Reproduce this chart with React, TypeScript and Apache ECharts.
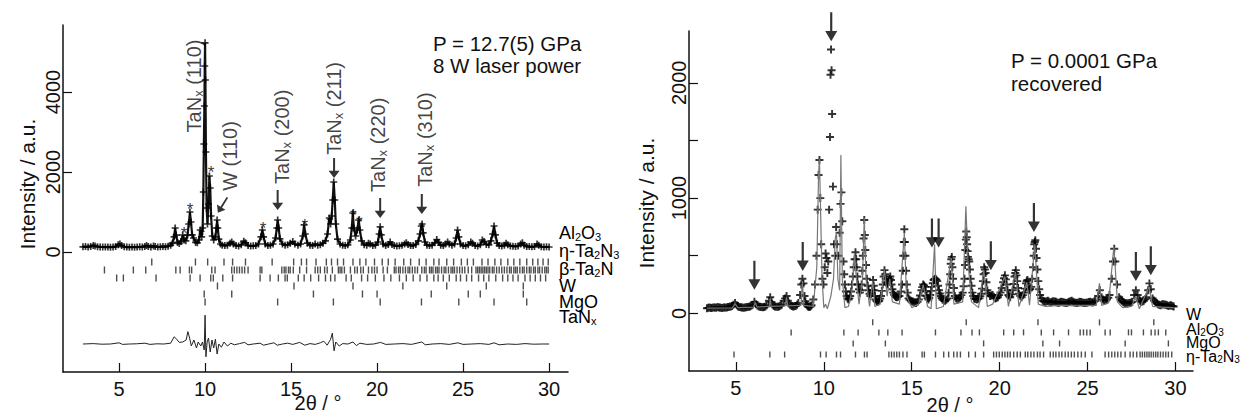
import { useEffect, useRef } from "react";
import * as echarts from "echarts";

// ---------------- data: left panel (P = 12.7(5) GPa) ----------------
const obsLeft: number[][] = [
  [2.9,130],[3.05,135],[3.2,128],[3.35,140],[3.5,165],[3.6,150],[3.75,132],[3.9,128],[4.05,125],[4.2,122],
  [4.35,127],[4.5,120],[4.65,124],[4.8,135],[4.95,180],[5.05,200],[5.15,160],[5.3,130],[5.45,122],[5.6,118],
  [5.75,125],[5.9,120],[6.05,123],[6.2,130],[6.35,125],[6.5,140],[6.6,160],[6.7,140],[6.85,128],[7.0,150],
  [7.1,135],[7.25,125],[7.4,130],[7.55,140],[7.7,130],[7.85,145],[8.0,170],[8.1,220],[8.2,380],[8.26,600],
  [8.32,420],[8.4,240],[8.5,210],[8.6,260],[8.7,425],[8.78,300],[8.88,280],[8.98,420],[9.05,700],[9.12,1000],
  [9.18,750],[9.25,430],[9.33,350],[9.45,240],[9.55,230],[9.65,300],[9.72,550],[9.8,380],[9.86,600],[9.9,1500],
  [9.93,2700],[9.96,3650],[9.98,4650],[10.0,5230],[10.02,4300],[10.05,2500],[10.09,1100],[10.14,700],[10.2,1200],
  [10.25,1900],[10.3,1600],[10.35,900],[10.42,400],[10.5,300],[10.6,380],[10.66,600],[10.7,800],[10.74,600],
  [10.8,320],[10.9,200],[11.0,170],[11.15,160],[11.3,170],[11.45,220],[11.55,250],[11.65,200],[11.8,160],
  [11.95,150],[12.1,180],[12.25,270],[12.35,230],[12.5,160],[12.65,150],[12.8,155],[12.95,160],[13.1,200],
  [13.25,380],[13.33,550],[13.4,380],[13.5,200],[13.65,160],[13.8,170],[13.95,200],[14.1,350],[14.17,600],
  [14.22,800],[14.28,600],[14.35,330],[14.5,200],[14.65,170],[14.8,180],[14.95,220],[15.1,260],[15.22,200],
  [15.4,170],[15.55,200],[15.68,400],[15.76,680],[15.83,450],[15.95,220],[16.1,170],[16.25,160],[16.4,200],
  [16.55,170],[16.7,180],[16.85,220],[17.0,280],[17.12,450],[17.22,850],[17.3,700],[17.36,900],[17.42,1300],
  [17.48,1750],[17.54,1300],[17.6,700],[17.7,320],[17.85,200],[18.0,170],[18.15,160],[18.3,180],[18.45,300],
  [18.53,600],[18.59,975],[18.65,600],[18.75,400],[18.85,550],[18.93,800],[19.0,550],[19.1,280],[19.25,180],
  [19.4,170],[19.5,220],[19.6,200],[19.75,160],[19.9,170],[20.05,250],[20.12,450],[20.18,630],[20.24,430],
  [20.35,200],[20.5,160],[20.65,190],[20.76,250],[20.87,190],[21.0,160],[21.15,150],[21.3,155],[21.45,170],
  [21.6,200],[21.7,230],[21.8,190],[21.95,160],[22.1,160],[22.25,190],[22.4,280],[22.5,450],[22.57,650],
  [22.62,700],[22.68,480],[22.78,250],[22.9,170],[23.05,160],[23.2,170],[23.35,230],[23.47,310],[23.58,240],
  [23.7,170],[23.85,160],[23.98,200],[24.1,250],[24.2,200],[24.35,170],[24.5,200],[24.6,350],[24.68,550],
  [24.75,380],[24.85,200],[25.0,160],[25.15,155],[25.3,180],[25.45,250],[25.55,220],[25.7,160],[25.85,150],
  [26.0,180],[26.12,300],[26.22,260],[26.35,190],[26.5,180],[26.62,280],[26.72,450],[26.8,650],[26.88,430],
  [26.98,220],[27.1,160],[27.25,150],[27.4,170],[27.5,220],[27.6,180],[27.75,150],[27.9,145],[28.05,140],
  [28.2,150],[28.35,200],[28.45,230],[28.55,170],[28.7,140],[28.85,135],[29.0,130],[29.15,135],[29.3,200],
  [29.4,170],[29.55,130],[29.7,125],[29.85,130],[30.0,125],
];
const diffLeft: number[][] = [
  [2.9,-2300],[3.5,-2290],[4.0,-2305],[4.5,-2300],[5.0,-2270],[5.2,-2310],[5.6,-2300],[6.0,-2295],[6.5,-2280],
  [6.8,-2310],[7.2,-2295],[7.6,-2300],[8.0,-2280],[8.2,-2120],[8.35,-2180],[8.5,-2260],[8.7,-2250],[8.9,-2200],
  [9.0,-1990],[9.1,-2150],[9.2,-2350],[9.35,-2200],[9.5,-2400],[9.6,-2250],[9.75,-2350],[9.85,-2250],[9.95,-2450],
  [10.0,-1580],[10.05,-2620],[10.12,-2250],[10.2,-2150],[10.3,-2500],[10.4,-2200],[10.5,-2400],[10.6,-2180],
  [10.7,-2550],[10.8,-2300],[10.95,-2380],[11.1,-2250],[11.3,-2350],[11.5,-2280],[11.7,-2320],[12.0,-2290],
  [12.3,-2260],[12.5,-2320],[12.8,-2300],[13.2,-2280],[13.4,-2330],[13.7,-2300],[14.0,-2270],[14.2,-2330],
  [14.5,-2300],[14.8,-2280],[15.1,-2310],[15.5,-2260],[15.8,-2330],[16.1,-2290],[16.4,-2310],[16.7,-2270],
  [16.9,-2230],[17.1,-2330],[17.3,-2180],[17.4,-2030],[17.5,-2470],[17.6,-2250],[17.8,-2350],[18.0,-2290],
  [18.3,-2300],[18.6,-2250],[18.8,-2340],[19.0,-2280],[19.4,-2310],[19.8,-2300],[20.2,-2260],[20.5,-2310],
  [21.0,-2300],[21.5,-2290],[22.0,-2310],[22.6,-2250],[22.8,-2320],[23.2,-2300],[23.7,-2290],[24.2,-2310],
  [24.7,-2270],[25.0,-2310],[25.5,-2300],[26.0,-2290],[26.5,-2310],[26.8,-2270],[27.1,-2320],[27.6,-2300],
  [28.1,-2310],[28.6,-2290],[29.1,-2305],[29.6,-2300],[30.0,-2300],
];
const al2o3Left = [6.9,9.44,10.15,11.1,11.6,12.35,13.9,15.15,15.6,15.9,16.45,17.05,17.35,17.7,18.05,18.6,19.0,19.35,19.85,20.3,20.65,21.05,21.55,21.95,22.45,22.85,23.3,23.6,24.05,24.45,24.9,25.25,25.6,26.1,26.45,26.85,27.2,27.6,27.95,28.3,28.7,29.05,29.35,29.65,29.95];
const etaLeft = [4.15,5.83,6.55,8.3,8.55,9.09,9.22,10.39,10.58,11.55,11.7,11.85,12.0,12.15,12.3,12.5,13.2,13.3,14.46,14.6,14.7,14.85,14.95,15.13,15.5,15.9,16.4,16.55,16.7,16.95,17.1,17.4,17.75,17.85,17.95,18.1,18.45,18.7,18.85,19.05,19.2,19.5,19.7,19.85,20.0,20.35,20.6,21.0,21.1,21.25,21.35,21.5,21.65,21.8,21.9,22.05,22.2,22.35,22.6,22.75,22.85,23.05,23.15,23.25,23.4,23.5,23.6,23.75,23.9,24.0,24.15,24.3,24.4,24.5,24.65,24.8,24.95,25.1,25.3,25.5,25.75,25.85,25.95,26.05,26.15,26.25,26.35,26.45,26.55,26.7,26.8,26.95,27.1,27.25,27.4,27.55,27.7,27.8,27.95,28.05,28.15,28.3,28.45,28.55,28.7,28.85,28.95,29.1,29.2,29.35,29.45,29.6,29.75,29.85,29.95];
const betaLeft = [4.86,5.25,7.15,9.13,9.71,10.33,10.48,11.03,11.6,13.2,13.78,14.26,14.65,14.78,15.42,15.76,16.14,16.6,17.0,17.3,17.55,18.2,18.5,19.1,19.45,19.9,20.4,20.8,21.3,21.7,22.1,22.5,22.9,23.3,23.55,23.85,24.2,24.6,24.85,25.2,25.5,25.9,26.2,26.5,26.9,27.3,27.6,27.9,28.2,28.6,28.9,29.2,29.5,29.8];
const wLeft = [10.72,15.17,18.6,21.5,24.05,26.35,28.5];
const mgoLeft = [9.95,11.55,16.3,19.15,20.0,23.15,25.3,26.0,28.5];
const tanLeft = [10.0,14.22,17.46,20.18,22.58,24.75,26.8,28.7];
const arrowTipsLeft: number[][] = [[14.22,1050],[17.5,1850],[20.18,850],[22.6,950]];
const wArrowLeft: number[][] = [[11.02,1175]];
const peakLabelsLeft: [number, number, string][] = [[9.33,4150,"(110)"],[14.5,2880,"(200)"],[17.47,3590,"(211)"],[20.06,2680,"(220)"],[22.79,2810,"(310)"]];
const wLabelLeft: [number, number, string][] = [[11.45,2400,"W (110)"]];
const starsLeft: number[][] = [[8.78,560],[9.13,1175],[9.8,520],[10.35,2100],[13.37,680],[15.8,760],[17.25,810],[18.62,1010],[18.97,830]];

// ---------------- data: right panel (P = 0.0001 GPa, recovered) ----------------
const obsRight: number[][] = [
  [3.35,45],[3.43,48],[3.5,50],[3.58,46],[3.65,48],[3.73,50],[3.8,52],[3.88,49],[3.95,55],[4.03,52],[4.1,50],
  [4.18,47],[4.25,48],[4.33,51],[4.4,52],[4.48,50],[4.55,55],[4.63,57],[4.7,60],[4.78,65],[4.85,75],
  [4.95,90],[5.05,70],[5.12,60],[5.2,55],[5.28,53],[5.35,52],[5.43,49],[5.5,50],[5.58,53],[5.65,55],[5.73,57],
  [5.8,60],[5.88,66],[5.95,75],[6.05,100],[6.15,80],[6.22,68],[6.3,60],[6.38,57],
  [6.45,55],[6.53,53],[6.6,55],[6.68,60],[6.75,70],[6.88,110],[6.95,140],[7.02,100],[7.08,78],[7.15,65],[7.22,60],
  [7.3,58],[7.38,57],[7.45,60],[7.53,66],[7.6,75],[7.72,110],
  [7.8,130],[7.88,150],[7.95,110],[8.02,85],[8.1,70],[8.18,63],[8.25,60],[8.32,62],[8.4,65],[8.48,75],[8.55,90],
  [8.65,160],[8.72,250],[8.78,300],
  [8.84,260],[8.9,150],[8.95,105],[9.0,80],[9.05,68],[9.1,60],[9.15,57],[9.2,58],[9.25,62],[9.3,70],[9.4,120],
  [9.5,250],[9.58,500],[9.65,900],[9.7,1200],
  [9.75,1330],[9.8,1000],[9.85,600],[9.92,300],[9.98,250],[10.05,400],[10.1,520],[10.15,480],[10.2,350],
  [10.25,450],[10.3,900],[10.35,1530],[10.38,2070],[10.41,2290],[10.44,2110],[10.47,1730],[10.52,1100],
  [10.58,600],[10.65,500],[10.7,750],[10.75,600],[10.82,500],[10.9,700],[10.95,950],[11.0,1050],[11.05,800],
  [11.12,450],[11.16,340],[11.2,250],[11.25,190],[11.3,150],[11.35,130],[11.4,120],[11.45,130],[11.5,150],
  [11.55,190],[11.6,250],[11.65,320],[11.7,400],[11.75,470],[11.8,530],[11.84,470],[11.87,400],[11.91,320],
  [11.95,250],[12.0,210],[12.05,180],[12.1,200],[12.15,250],[12.19,370],[12.22,500],[12.26,650],[12.3,810],
  [12.33,680],[12.36,550],[12.4,420],[12.45,300],[12.5,240],[12.55,200],[12.6,170],[12.65,150],[12.7,170],
  [12.75,200],[12.8,290],[12.84,240],[12.87,200],[12.91,150],[12.95,120],[13.0,108],[13.05,100],[13.1,104],
  [13.15,110],[13.2,128],[13.25,150],[13.3,195],[13.35,250],[13.4,320],[13.45,375],[13.49,340],[13.52,300],
  [13.56,270],[13.6,250],[13.65,262],[13.7,280],[13.74,300],[13.78,320],[13.82,290],[13.85,250],[13.9,210],
  [13.95,180],[14.0,162],[14.05,150],[14.1,143],[14.15,140],[14.22,144],[14.3,150],[14.38,190],[14.45,250],
  [14.49,370],[14.52,500],[14.55,620],[14.58,730],[14.61,620],[14.64,500],[14.68,370],[14.72,250],[14.77,180],
  [14.82,130],[14.88,118],[14.95,110],[15.03,104],[15.1,100],[15.18,95],[15.25,90],[15.33,100],
  [15.4,120],[15.47,155],[15.55,200],[15.6,228],[15.65,250],[15.7,242],[15.75,230],[15.8,190],[15.85,150],
  [15.9,132],[15.95,120],[16.0,135],[16.05,160],[16.1,195],[16.15,230],[16.2,262],[16.25,290],[16.3,298],
  [16.35,300],[16.4,292],[16.45,280],[16.5,240],[16.55,200],[16.6,172],[16.65,150],[16.7,133],[16.75,120],
  [16.82,114],[16.9,110],[16.97,118],[17.05,130],[17.1,180],[17.15,250],[17.19,340],[17.22,430],[17.25,470],
  [17.28,490],[17.31,400],[17.35,300],[17.4,220],[17.45,150],[17.52,132],[17.6,120],[17.68,128],[17.75,140],
  [17.82,158],[17.9,180],[17.95,235],[18.0,300],[18.03,420],[18.05,550],[18.08,640],[18.1,710],[18.13,660],
  [18.15,600],[18.18,540],[18.2,490],[18.24,470],[18.27,450],[18.31,380],[18.35,300],[18.4,240],[18.45,180],
  [18.5,150],[18.55,130],[18.62,124],[18.7,120],[18.77,126],[18.85,130],[18.9,148],[18.95,170],[19.0,215],
  [19.05,280],[19.09,340],[19.12,400],[19.16,380],[19.2,350],[19.25,270],[19.3,200],[19.37,172],[19.45,150],
  [19.52,156],[19.6,160],[19.67,145],[19.75,130],[19.82,134],[19.9,140],[19.97,158],[20.05,180],[20.12,220],
  [20.2,270],[20.25,305],[20.3,330],[20.35,295],[20.4,250],[20.45,200],[20.5,160],[20.55,148],[20.6,140],
  [20.67,165],[20.75,200],[20.8,255],[20.85,320],[20.89,350],[20.92,375],[20.96,330],[21.0,280],[21.05,220],
  [21.1,170],[21.17,152],[21.25,140],[21.32,158],[21.4,180],[21.45,215],[21.5,260],[21.54,278],[21.58,290],
  [21.63,245],[21.68,200],[21.74,212],[21.8,230],[21.85,300],[21.9,400],[21.94,500],[21.97,600],[22.0,620],
  [22.03,635],[22.07,560],[22.1,480],[22.15,380],[22.2,280],[22.25,210],[22.3,160],[22.38,130],[22.45,110],
  [22.53,104],[22.6,100],[22.68,106],
  [22.75,110],[22.83,100],[22.9,95],[22.98,101],[23.05,105],[23.13,102],
  [23.2,100],[23.28,94],[23.35,90],[23.43,96],[23.5,100],[23.58,98],[23.65,95],[23.73,92],[23.8,90],[23.88,95],
  [23.95,100],[24.03,106],[24.1,110],[24.18,100],[24.25,95],[24.33,92],[24.4,90],[24.48,95],[24.55,100],
  [24.63,98],[24.7,95],[24.78,92],[24.85,90],[24.93,93],[25.0,95],[25.08,98],[25.15,100],[25.23,97],[25.3,95],
  [25.38,102],[25.45,110],[25.6,150],[25.7,200],[25.8,140],[25.88,120],[25.95,110],
  [26.03,114],[26.1,120],[26.18,135],[26.25,160],[26.38,300],[26.45,450],[26.52,560],[26.58,450],[26.68,250],
  [26.8,140],[26.88,122],[26.95,110],[27.03,98],
  [27.1,90],[27.18,87],[27.25,85],[27.33,87],[27.4,90],[27.48,95],[27.55,100],[27.65,160],[27.75,200],
  [27.85,160],[27.95,120],[28.0,108],[28.05,100],[28.13,104],
  [28.2,110],[28.28,122],[28.35,140],[28.45,200],[28.52,260],[28.6,210],[28.7,130],[28.78,112],[28.85,100],
  [28.93,90],[29.0,80],[29.08,74],[29.15,70],[29.23,76],
  [29.3,80],[29.38,78],[29.45,75],[29.53,70],[29.6,65],[29.68,68],[29.75,70],[29.83,64],[29.9,60],
];
const calcRight: number[][] = [
  [3.35,45],[4.8,48],[4.95,85],[5.1,50],[6.0,55],[6.1,95],[6.2,55],[6.9,60],[6.95,130],[7.0,60],[7.8,65],
  [7.88,140],[7.95,65],[8.7,70],[8.78,280],[8.86,70],[9.4,60],[9.6,400],[9.7,1200],[9.75,1340],[9.8,1000],
  [9.9,300],[10.0,50],[10.1,80],[10.2,40],[10.4,150],[10.55,300],[10.65,650],[10.72,700],[10.8,300],[10.9,200],
  [10.97,1375],[11.05,300],[11.2,50],[11.4,60],[11.6,200],[11.75,520],[11.85,300],[12.0,80],[12.2,300],
  [12.3,830],[12.4,300],[12.6,60],[12.78,280],[12.9,60],[13.2,80],[13.45,380],[13.6,150],[13.75,300],[13.9,100],
  [14.3,80],[14.58,700],[14.7,150],[15.0,50],[15.4,80],[15.65,250],[15.9,60],[16.1,40],[16.3,600],[16.4,40],
  [16.8,60],[17.25,480],[17.4,80],[17.9,100],[18.08,930],[18.2,450],[18.4,100],[18.8,50],[19.1,380],[19.3,60],
  [19.6,80],[20.3,320],[20.5,60],[20.9,360],[21.1,60],[21.55,270],[21.7,70],[22.0,600],[22.2,80],[22.6,60],
  [23.5,70],[24.5,65],[25.5,70],[25.68,260],[25.8,70],[26.2,90],[26.5,580],[26.7,100],[27.0,50],[27.5,60],
  [27.75,150],[27.95,40],[28.5,230],[28.7,60],[29.2,55],[29.9,50],
];
const wRight = [12.78,18.1,22.18,25.68,28.77];
const al2o3Right = [8.14,11.14,11.95,13.13,13.64,14.45,16.35,17.8,18.43,18.85,20.23,20.8,21.36,22.37,23.07,23.92,24.58,24.77,24.96,25.15,26.0,26.29,27.33,27.5,28.18,28.62,28.84,29.03,29.45];
const mgoRight = [11.67,13.5,19.09,22.46,23.41,27.14,29.6];
const etaRight = [4.89,6.93,7.77,9.81,10.13,10.72,10.95,11.8,12.31,12.46,13.7,13.85,14.0,14.15,14.3,14.5,14.73,15.59,15.72,16.35,16.82,17.1,17.39,17.58,17.77,18.24,18.62,19.09,19.66,19.82,19.98,20.15,20.3,20.45,20.6,20.8,21.0,21.18,21.46,21.6,21.78,21.95,22.15,22.3,22.5,22.88,23.05,23.2,23.38,23.54,23.73,23.9,24.08,24.25,24.45,24.65,24.87,25.25,26.0,26.2,26.38,26.55,26.72,26.9,27.14,27.42,27.6,27.8,27.99,28.12,28.25,28.38,28.5,28.62,28.75,28.88,29.0,29.15,29.3,29.45,29.6,29.79];
const arrowTipsRight: number[][] = [[6.05,206],[8.8,368],[10.42,2360],[16.15,571],[16.53,571],[19.5,374],[21.95,707],[27.75,281],[28.6,330]];

// tick labels
const xTicks = [5, 10, 15, 20, 25, 30];
const yTicksLeft = [0, 2000, 4000];
const yTicksRight = [0, 500, 1000, 1500, 2000];
const yLabelsRight = [0, 1000, 2000];

// ---------------- styling ----------------
const FONT = "'Liberation Sans', Arial, Helvetica, sans-serif";
const INK = "#111";
const PLUS = "path://M1.9,0H3.1V1.9H5V3.1H3.1V5H1.9V3.1H0V1.9H1.9Z";
const ARROW = "path://M4,0H6V18H10.5L5,28L-0.5,18H4Z";

const rowLevelsLeft = [-250, -450, -650, -850, -1050, -1250];
const rowLevelsRight = [-78, -165, -261, -357];

const richBig = {
  a: { fontFamily: FONT, fontSize: 20, lineHeight: 22, color: INK },
  s: { fontFamily: FONT, fontSize: 13, lineHeight: 12, verticalAlign: "bottom", color: INK },
};
const richPhase = {
  a: { fontFamily: FONT, fontSize: 18, lineHeight: 18, color: INK },
  s: { fontFamily: FONT, fontSize: 11, lineHeight: 10, verticalAlign: "bottom", color: INK },
};
const richPhaseR = {
  a: { fontFamily: FONT, fontSize: 16, lineHeight: 16, color: INK },
  s: { fontFamily: FONT, fontSize: 10, lineHeight: 9, verticalAlign: "bottom", color: INK },
};
const richStar = { t: { fontFamily: FONT, fontSize: 17, color: "#000" } };

function xAxis(grid: number, min: number, max: number) {
  return {
    type: "value", gridIndex: grid, min, max,
    axisLine: { show: true, onZero: false, lineStyle: { color: INK, width: 1.5 } },
    axisTick: { show: true, inside: true, length: 9, customValues: xTicks, lineStyle: { color: INK, width: 1.2 } },
    axisLabel: { customValues: xTicks, fontFamily: FONT, fontSize: 20, color: INK, margin: 7, formatter: (v: number) => String(v) },
    splitLine: { show: false },
  };
}
function yAxis(grid: number, min: number, max: number, ticks: number[], labels: number[]) {
  return {
    type: "value", gridIndex: grid, min, max,
    axisLine: { show: true, onZero: false, lineStyle: { color: INK, width: 1.5 } },
    axisTick: { show: true, inside: true, length: 9, customValues: ticks, lineStyle: { color: INK, width: 1.2 } },
    axisLabel: { customValues: labels, rotate: 90, fontFamily: FONT, fontSize: 20, color: INK, margin: 0, formatter: (v: number) => String(v) },
    splitLine: { show: false },
  };
}
function tickRow(ax: number, xs: number[], level: number, h: number) {
  return {
    type: "scatter", xAxisIndex: ax, yAxisIndex: ax, silent: true,
    symbol: "rect", symbolSize: [1.4, h], itemStyle: { color: "#222" },
    data: xs.map((x) => [x, level]), z: 2,
  };
}
function arrows(ax: number, tips: number[][], size: number[]) {
  return {
    type: "scatter", xAxisIndex: ax, yAxisIndex: ax, silent: true,
    symbol: ARROW, symbolSize: size, symbolOffset: [0, "-50%"], itemStyle: { color: "#000" },
    data: tips, z: 5,
  };
}
const phaseText = (x: number, y: number, parts: string, rich: any) => ({
  type: "text", x, y, silent: true,
  style: { text: parts, rich, align: "left", verticalAlign: "middle" },
});
const plainText = (x: number, y: number, t: string, size: number, rot = 0, align = "left") => ({
  type: "text", x, y, rotation: rot, silent: true,
  style: { text: t, fontFamily: FONT, fontSize: size, fill: INK, align, verticalAlign: "middle" },
});

const option: any = {
  animation: false,
  backgroundColor: "#fff",
  grid: [
    { left: 63, top: 25, width: 505, height: 347 },
    { left: 689, top: 31, width: 504, height: 340 },
  ],
  xAxis: [xAxis(0, 1.74, 31.1), xAxis(1, 2.33, 31.0)],
  yAxis: [yAxis(0, -3000, 5675, yTicksLeft, yTicksLeft), yAxis(1, -500, 2450, yTicksRight, yLabelsRight)],
  series: [
    // left panel
    { type: "line", xAxisIndex: 0, yAxisIndex: 0, data: obsLeft, showSymbol: false, silent: true, lineStyle: { color: "#111", width: 2.2 }, z: 2 },
    { type: "scatter", xAxisIndex: 0, yAxisIndex: 0, data: obsLeft, symbol: PLUS, symbolSize: 7, silent: true, itemStyle: { color: "#000" }, z: 3 },
    { type: "line", xAxisIndex: 0, yAxisIndex: 0, data: diffLeft, showSymbol: false, silent: true, lineStyle: { color: "#222", width: 1 }, z: 2 },
    tickRow(0, al2o3Left, rowLevelsLeft[0], 7),
    tickRow(0, etaLeft, rowLevelsLeft[1], 7),
    tickRow(0, betaLeft, rowLevelsLeft[2], 7),
    tickRow(0, wLeft, rowLevelsLeft[3], 7),
    tickRow(0, mgoLeft, rowLevelsLeft[4], 7),
    tickRow(0, tanLeft, rowLevelsLeft[5], 7),
    arrows(0, arrowTipsLeft, [11, 20]),
    {
      type: "scatter", xAxisIndex: 0, yAxisIndex: 0, silent: true,
      symbol: ARROW, symbolSize: [10, 18], symbolRotate: -32, itemStyle: { color: "#000" }, data: wArrowLeft, z: 5,
    },
    {
      type: "scatter", xAxisIndex: 0, yAxisIndex: 0, silent: true, symbolSize: 1, itemStyle: { color: "rgba(0,0,0,0)" },
      data: peakLabelsLeft.map(([x, y, t]) => ({ value: [x, y], name: t })),
      label: { show: true, position: "inside", rotate: 90, formatter: (p: any) => `{a|TaN}{s|x}{a| ${p.name}}`, rich: richBig },
      z: 6,
    },
    {
      type: "scatter", xAxisIndex: 0, yAxisIndex: 0, silent: true, symbolSize: 1, itemStyle: { color: "rgba(0,0,0,0)" },
      data: wLabelLeft.map(([x, y, t]) => ({ value: [x, y], name: t })),
      label: { show: true, position: "inside", rotate: 90, formatter: (p: any) => p.name, fontFamily: FONT, fontSize: 20, color: INK },
      z: 6,
    },
    {
      type: "scatter", xAxisIndex: 0, yAxisIndex: 0, silent: true, symbolSize: 1, itemStyle: { color: "rgba(0,0,0,0)" },
      data: starsLeft,
      label: { show: true, position: "inside", formatter: "{t|*}", rich: richStar, offset: [0, 4] },
      z: 6,
    },
    // right panel
    { type: "scatter", xAxisIndex: 1, yAxisIndex: 1, data: obsRight, symbol: PLUS, symbolSize: 8, silent: true, itemStyle: { color: "#000" }, z: 3 },
    { type: "line", xAxisIndex: 1, yAxisIndex: 1, data: calcRight, showSymbol: false, silent: true, lineStyle: { color: "#777", width: 1.2 }, z: 4 },
    tickRow(1, wRight, rowLevelsRight[0], 6),
    tickRow(1, al2o3Right, rowLevelsRight[1], 6),
    tickRow(1, mgoRight, rowLevelsRight[2], 6),
    tickRow(1, etaRight, rowLevelsRight[3], 6),
    arrows(1, arrowTipsRight, [12, 29]),
  ],
  graphic: [
    plainText(433, 43, "P = 12.7(5) GPa", 20.5),
    plainText(433, 65, "8 W laser power", 20.5),
    plainText(1011, 60, "P = 0.0001 GPa", 20.5),
    plainText(1011, 83, "recovered", 20.5),
    plainText(27, 184, "Intensity / a.u.", 21, Math.PI / 2, "center"),
    plainText(646, 203, "Intensity / a.u.", 21, Math.PI / 2, "center"),
    plainText(318, 403, "2θ / °", 20, 0, "center"),
    plainText(950, 405, "2θ / °", 20, 0, "center"),
    phaseText(559, 233, "{a|Al}{s|2}{a|O}{s|3}", richPhase),
    phaseText(559, 251, "{a|η-Ta}{s|2}{a|N}{s|3}", richPhase),
    phaseText(559, 269, "{a|β-Ta}{s|2}{a|N}", richPhase),
    phaseText(559, 286, "{a|W}", richPhase),
    phaseText(559, 302, "{a|MgO}", richPhase),
    phaseText(559, 317, "{a|TaN}{s|x}", richPhase),
    phaseText(1186, 314, "{a|W}", richPhaseR),
    phaseText(1186, 329, "{a|Al}{s|2}{a|O}{s|3}", richPhaseR),
    phaseText(1186, 342, "{a|MgO}", richPhaseR),
    phaseText(1186, 356, "{a|η-Ta}{s|2}{a|N}{s|3}", richPhaseR),
  ],
};

export default function App() {
  const ref = useRef<HTMLDivElement>(null);
  useEffect(() => {
    const chart = echarts.init(ref.current!, null, { renderer: "svg" });
    chart.setOption(option);
    return () => chart.dispose();
  }, []);
  return (
    <div
      ref={ref}
      style={{ position: "absolute", left: 0, top: 0, width: 1242, height: 420, background: "#fff" }}
    />
  );
}
